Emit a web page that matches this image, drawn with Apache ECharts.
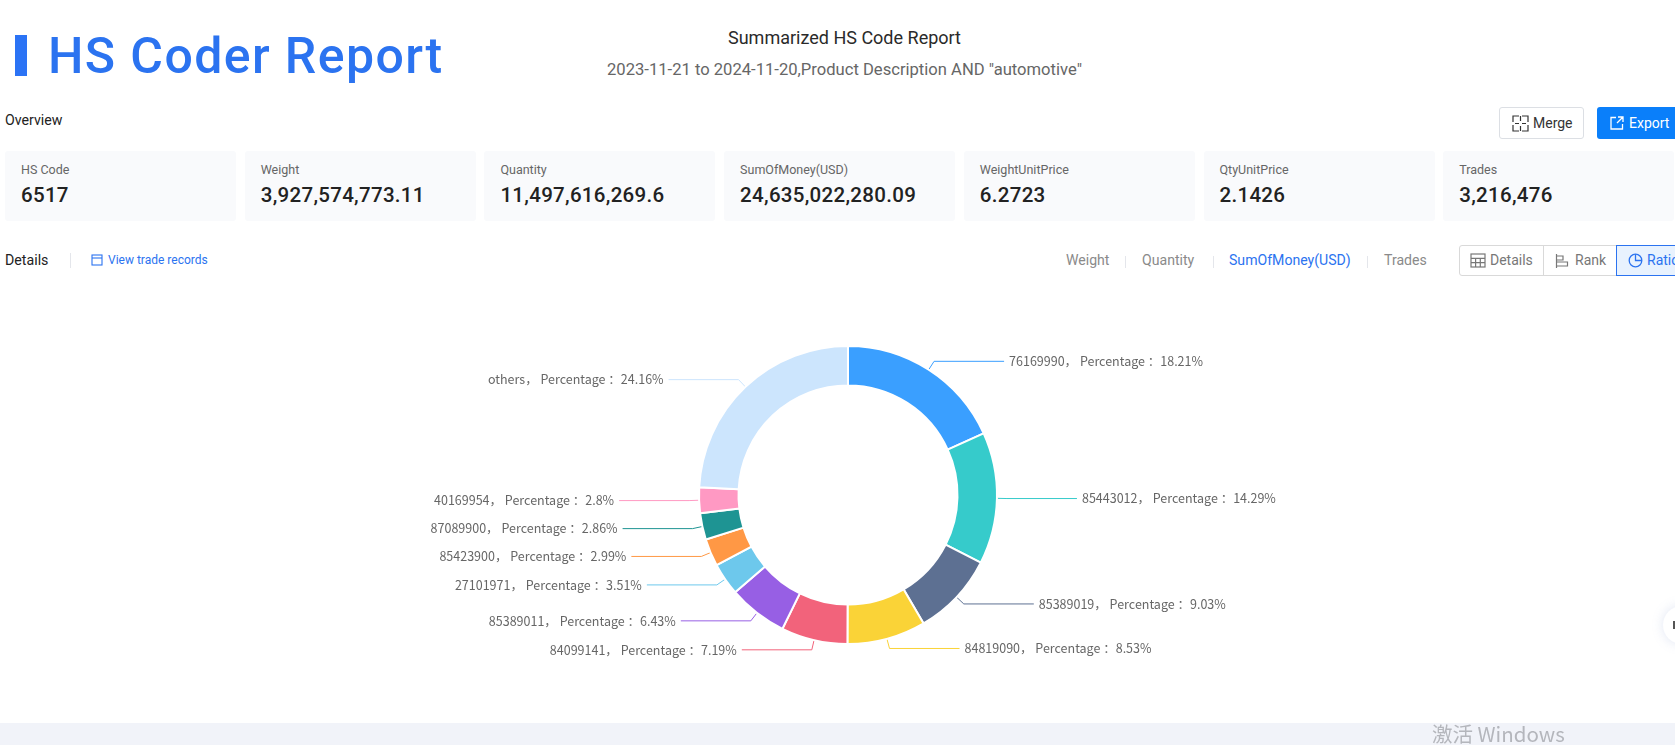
<!DOCTYPE html>
<html>
<head>
<meta charset="utf-8">
<title>HS Coder Report</title>
<script src="https://cdn.jsdelivr.net/npm/echarts@6/dist/echarts.min.js"></script>
<style>
html, body { margin: 0; padding: 0; background: #fff; overflow: hidden; }
body { width: 1675px; height: 745px; position: relative; font-family: Roboto, "Noto Sans", sans-serif; color: #222; }
.abs { position: absolute; white-space: nowrap; }
.card { position: absolute; top: 151px; width: 231px; height: 70px; background: #f9fafc; border-radius: 3px; }
.card .lb { position: absolute; left: 16px; top: 11px; font-size: 12.5px; line-height: 16px; color: #666; }
.card .val { position: absolute; left: 16px; top: 31px; font-size: 20.5px; line-height: 26px; font-weight: 500; letter-spacing: .3px; color: #222; }
.tab { position: absolute; top: 251px; font-size: 14.1px; line-height: 18px; color: #8a8a8a; white-space: nowrap; }
.sep { position: absolute; width: 1px; background: #e4e6eb; }
.seg { position: absolute; top: 245px; height: 31px; box-sizing: border-box; border: 1px solid #d9d9d9; font-size: 14px; line-height: 29px; color: #777; white-space: nowrap; overflow: hidden; }
#chart { position: absolute; left: 0; top: 290px; width: 1675px; height: 433px; }
</style>
</head>
<body>
<!-- 页面头部 -->
<div class="abs" style="left:15px;top:35px;width:12px;height:41px;background:#2b73f5"></div>
<div class="abs" style="left:48px;top:26px;font-size:50px;line-height:60px;font-weight:500;letter-spacing:1.4px;color:#2b73f0">HS Coder Report</div>
<div class="abs" style="left:0;width:1689px;top:27px;text-align:center;font-size:18px;line-height:22px;color:#2a2a2a">Summarized HS Code Report</div>
<div class="abs" style="left:0;width:1689px;top:59px;text-align:center;font-size:16.6px;line-height:22px;color:#666">2023-11-21 to 2024-11-20,Product Description AND "automotive"</div>
<div class="abs" style="left:5px;top:111px;font-size:14.2px;line-height:18px;color:#222">Overview</div>

<div class="abs" style="left:1499px;top:107px;width:85px;height:32px;box-sizing:border-box;border:1px solid #dcdfe4;border-radius:3px;font-size:14px;line-height:30px;color:#333;padding-left:33px">Merge
  <svg style="position:absolute;left:12px;top:7px" width="17" height="17" viewBox="0 0 17 17" fill="none" stroke="#333" stroke-width="1.2"><path d="M7 1H1V7M10 1H16V7M7 16H1V10M10 16H16V10M8.5 1V6M8.5 11V16M3 8.5H7M10 8.5H14"/></svg>
</div>
<div class="abs" style="left:1597px;top:107px;width:78px;height:32px;background:#0a7ffa;border-radius:3px 0 0 3px;font-size:14px;line-height:32px;color:#fff;padding-left:32px;box-sizing:border-box">Export
  <svg style="position:absolute;left:13px;top:9px" width="14" height="14" viewBox="0 0 14 14" fill="none" stroke="#fff" stroke-width="1.3"><path d="M6 1.5H1V13H12.5V8M8 1H13V6M13 1L7 7"/></svg>
</div>

<div id="cards"></div>

<div class="abs" style="left:5px;top:251px;font-size:14.2px;line-height:18px;color:#222">Details</div>
<div class="sep" style="left:70px;top:253px;height:15px"></div>
<svg class="abs" style="left:91px;top:254px" width="12" height="13" viewBox="0 0 12 13" fill="none" stroke="#2b73f0" stroke-width="1.1"><rect x="1" y="1" width="10" height="10"/><path d="M1 4H11"/></svg>
<div class="abs" style="left:108px;top:252px;font-size:12px;line-height:17px;color:#2b73f0">View trade records</div>

<div id="tabs"></div>
<div class="sep" style="left:1125px;top:256px;height:12px"></div>
<div class="sep" style="left:1213px;top:256px;height:12px"></div>
<div class="sep" style="left:1367px;top:256px;height:12px"></div>

<div class="seg" style="left:1459px;width:85px;padding-left:30px;border-radius:3px 0 0 3px">Details
  <svg style="position:absolute;left:10px;top:7px" width="16" height="15" viewBox="0 0 16 15" fill="none" stroke="#777" stroke-width="1.2"><rect x="1" y="1" width="14" height="13"/><path d="M1 5.3H15M1 9.6H15M5.6 5.3V14M10.3 5.3V14"/></svg>
</div>
<div class="seg" style="left:1543px;width:74px;padding-left:32px;border-left:0">Rank
  <svg style="position:absolute;left:12px;top:7px" width="14" height="16" viewBox="0 0 14 16" fill="none" stroke="#777" stroke-width="1.2"><path d="M1.5 1V15M1.5 3H8V7H1.5M1.5 9H12.5V13H1.5"/></svg>
</div>
<div class="seg" style="left:1616px;width:59px;padding-left:30px;border-color:#2b73f0;border-right:0;background:#e8f2fe;color:#2b73f0">Ratio
  <svg style="position:absolute;left:11px;top:7px" width="15" height="15" viewBox="0 0 15 15" fill="none" stroke="#2b73f0" stroke-width="1.3"><circle cx="7.5" cy="7.5" r="6.3"/><path d="M7.5 1.2V7.5H13.8" /></svg>
</div>

<!-- 环形图 -->
<div id="chart"></div>

<div class="abs" style="left:1663px;top:606px;width:38px;height:38px;border-radius:50%;background:#fff;box-shadow:0 0 12px rgba(120,140,200,.22)"></div>
<div class="abs" style="left:1673px;top:621px;width:2px;height:8px;background:#555"></div>
<div class="abs" style="left:0;top:723px;width:1675px;height:22px;background:#f1f3f9"></div>
<div class="abs" style="left:1432px;top:720px;font-family:'Noto Sans CJK SC',sans-serif;font-size:20.5px;line-height:26px;color:#b4b6bc">激活 Windows</div>

<script>
// 汇总卡片
var cardLabels = ['HS Code', 'Weight', 'Quantity', 'SumOfMoney(USD)', 'WeightUnitPrice', 'QtyUnitPrice', 'Trades'];
var cardValues = ['6517', '3,927,574,773.11', '11,497,616,269.6', '24,635,022,280.09', '6.2723', '2.1426', '3,216,476'];

// 指标切换
var tabLabels = ['Weight', 'Quantity', 'SumOfMoney(USD)', 'Trades'];

// 图表数据
var hsCodes = ['76169990', '85443012', '85389019', '84819090', '84099141', '85389011', '27101971', '85423900', '87089900', '40169954', 'others'];
var percentages = [18.21, 14.29, 9.03, 8.53, 7.19, 6.43, 3.51, 2.99, 2.86, 2.8, 24.16];
var sliceColors = ['#3a9fff', '#36cbcb', '#5d7092', '#fad337', '#f2637b', '#975fe4', '#6dc8ec', '#ff9845', '#1e9493', '#ff99c3', '#cce5fd'];

var cardsHtml = '';
for (var i = 0; i < cardLabels.length; i++) {
    cardsHtml += '<div class="card" style="left:' + (5 + i * 239.7) + 'px"><div class="lb">' + cardLabels[i] +
        '</div><div class="val">' + cardValues[i] + '</div></div>';
}
document.getElementById('cards').innerHTML = cardsHtml;

var tabLefts = [1066, 1142, 1229, 1384];
var tabsHtml = '';
for (var j = 0; j < tabLabels.length; j++) {
    tabsHtml += '<div class="tab" style="left:' + tabLefts[j] + 'px' + (j === 2 ? ';color:#2b73f0' : '') + '">' + tabLabels[j] + '</div>';
}
document.getElementById('tabs').innerHTML = tabsHtml;

var pieChart = echarts.init(document.getElementById('chart'));

var pieData = hsCodes.map(function (code, idx) {
    return { name: code, value: percentages[idx] };
});

var pieOption = {
    animation: false,
    color: sliceColors,
    series: [{
        type: 'pie',
        center: [848, 205],
        radius: [109.5, 149],
        startAngle: 90,
        clockwise: true,
        data: pieData,
        itemStyle: {
            borderColor: '#fff',
            borderWidth: 2
        },
        label: {
            formatter: '{b}， Percentage ：{c}%',
            color: '#666',
            fontSize: 12.5,
            padding: [0, 0, 2, 0],
            fontFamily: '"Noto Sans CJK SC", sans-serif'
        },
        labelLine: {
            length: 10,
            length2: 70,
            lineStyle: {
                width: 1
            }
        }
    }]
};

pieChart.setOption(pieOption);
</script>
</body>
</html>
